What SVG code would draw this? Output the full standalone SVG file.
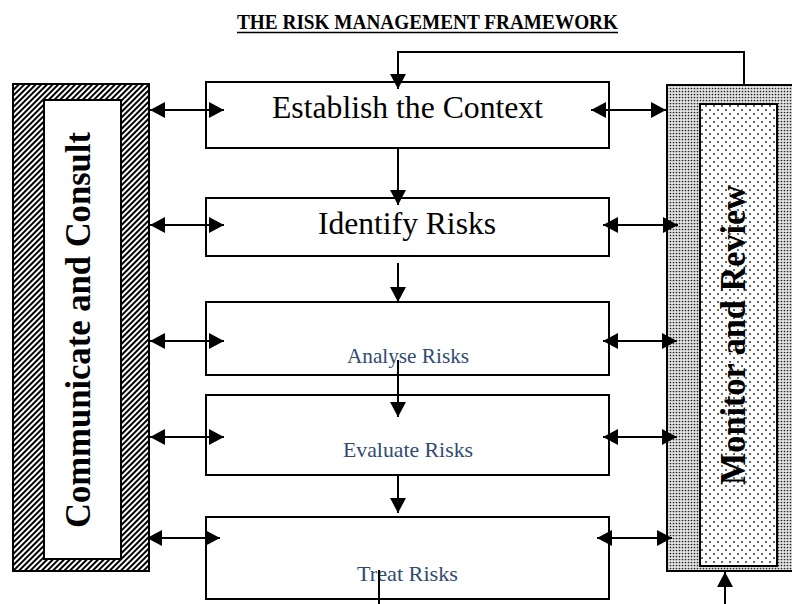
<svg xmlns="http://www.w3.org/2000/svg" width="792" height="604" viewBox="0 0 792 604">
<style>
.box{fill:#fff;stroke:#000;stroke-width:2}
.ln{fill:none;stroke:#000;stroke-width:2}
.big{font-family:"Liberation Serif",serif;font-size:31.5px;fill:#000;text-anchor:middle}
.small{font-family:"Liberation Serif",serif;font-size:21px;fill:#2f4b73;text-anchor:middle}
.side{font-family:"Liberation Serif",serif;font-size:35px;font-weight:bold;fill:#000;text-anchor:middle}
.title{font-family:"Liberation Serif",serif;font-size:20px;font-weight:bold;fill:#000;text-anchor:middle}
</style>
<defs>
<pattern id="hatch" width="4" height="4" patternUnits="userSpaceOnUse" patternTransform="rotate(45)">
<rect width="4" height="4" fill="#fff"/>
<rect width="2" height="4" fill="#000"/>
</pattern>
<pattern id="dense" width="3" height="3" patternUnits="userSpaceOnUse">
<rect width="3" height="3" fill="#e4e4e4"/>
<circle cx="1.5" cy="1.5" r="0.85" fill="#222"/>
</pattern>
<pattern id="sparse" width="8" height="8" patternUnits="userSpaceOnUse">
<rect width="8" height="8" fill="#fff"/>
<circle cx="2" cy="2" r="1.1" fill="#444"/>
<circle cx="6" cy="6" r="1.1" fill="#444"/>
</pattern>
<marker id="ah" markerUnits="userSpaceOnUse" markerWidth="16" markerHeight="16" viewBox="0 0 16 16" refX="15" refY="8" orient="auto-start-reverse">
<path d="M0,0 L15,8 L0,16 Z" fill="#000"/>
</marker>
</defs>

<g id="title">
<text class="title" x="427.5" y="29" textLength="381" lengthAdjust="spacingAndGlyphs">THE RISK MANAGEMENT FRAMEWORK</text>
<line x1="237" y1="32.5" x2="618" y2="32.5" stroke="#000" stroke-width="1.5"/>
</g>

<g id="communicate">
<rect x="13" y="84" width="136" height="487" fill="url(#hatch)" stroke="#000" stroke-width="2"/>
<rect x="44" y="100" width="77" height="459" class="box"/>
<text class="side" transform="translate(90,330) rotate(-90)" textLength="396" lengthAdjust="spacingAndGlyphs">Communicate and Consult</text>
</g>

<g id="monitor">
<rect x="667" y="85" width="140" height="486" fill="url(#dense)" stroke="#000" stroke-width="2"/>
<rect x="700" y="104" width="77" height="462" fill="url(#sparse)" stroke="#000" stroke-width="2"/>
<text class="side" transform="translate(745,335) rotate(-90)" textLength="300" lengthAdjust="spacingAndGlyphs">Monitor and Review</text>
</g>

<g id="establish">
<rect x="206" y="82" width="403" height="66" class="box"/>
<text class="big" x="407.5" y="118" textLength="271" lengthAdjust="spacingAndGlyphs">Establish the Context</text>
</g>
<g id="identify">
<rect x="206" y="198" width="403" height="58" class="box"/>
<text class="big" x="407" y="234" textLength="178" lengthAdjust="spacingAndGlyphs">Identify Risks</text>
</g>
<g id="analyse">
<rect x="206" y="302" width="403" height="73" class="box"/>
<text class="small" x="408" y="363" textLength="122" lengthAdjust="spacingAndGlyphs">Analyse Risks</text>
</g>
<g id="evaluate">
<rect x="206" y="395" width="403" height="80" class="box"/>
<text class="small" x="408" y="457" textLength="130" lengthAdjust="spacingAndGlyphs">Evaluate Risks</text>
</g>
<g id="treat">
<rect x="206" y="517" width="403" height="82" class="box"/>
<text class="small" x="407.5" y="581" textLength="101" lengthAdjust="spacingAndGlyphs">Treat Risks</text>
</g>

<g id="connectors">
<polyline class="ln" points="744,85 744,52 398,52 398,89" marker-end="url(#ah)"/>
<line class="ln" x1="398" y1="148" x2="398" y2="205" marker-end="url(#ah)"/>
<line class="ln" x1="398" y1="263" x2="398" y2="302" marker-end="url(#ah)"/>
<line class="ln" x1="398" y1="360" x2="398" y2="417" marker-end="url(#ah)"/>
<line class="ln" x1="398" y1="475" x2="398" y2="513" marker-end="url(#ah)"/>
<line class="ln" x1="379" y1="570" x2="379" y2="604"/>
<line class="ln" x1="725" y1="604" x2="725" y2="572" marker-end="url(#ah)"/>

<line class="ln" x1="150" y1="110" x2="224" y2="110" marker-start="url(#ah)" marker-end="url(#ah)"/>
<line class="ln" x1="150" y1="225" x2="224" y2="225" marker-start="url(#ah)" marker-end="url(#ah)"/>
<line class="ln" x1="150" y1="341" x2="224" y2="341" marker-start="url(#ah)" marker-end="url(#ah)"/>
<line class="ln" x1="150" y1="437" x2="224" y2="437" marker-start="url(#ah)" marker-end="url(#ah)"/>
<line class="ln" x1="147" y1="538" x2="220" y2="538" marker-start="url(#ah)" marker-end="url(#ah)"/>

<line class="ln" x1="591" y1="110" x2="666" y2="110" marker-start="url(#ah)" marker-end="url(#ah)"/>
<line class="ln" x1="603" y1="225" x2="678" y2="225" marker-start="url(#ah)" marker-end="url(#ah)"/>
<line class="ln" x1="603" y1="341" x2="677" y2="341" marker-start="url(#ah)" marker-end="url(#ah)"/>
<line class="ln" x1="603" y1="437" x2="677" y2="437" marker-start="url(#ah)" marker-end="url(#ah)"/>
<line class="ln" x1="597" y1="538" x2="672" y2="538" marker-start="url(#ah)" marker-end="url(#ah)"/>
</g>
</svg>
